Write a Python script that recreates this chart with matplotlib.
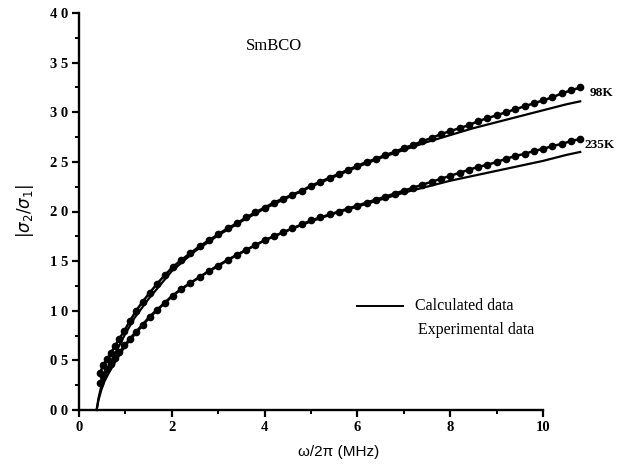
import matplotlib
matplotlib.use("Agg")
import matplotlib.pyplot as plt
from matplotlib.ticker import MultipleLocator, FixedLocator

# ---- data ----
x_calc = [0.38, 0.42, 0.48, 0.55, 0.65, 0.8, 1.0, 1.2, 1.5, 2.0, 2.5, 3.0, 3.5, 4.0,
          4.5, 5.0, 5.5, 6.0, 6.5, 7.0, 7.5, 8.0, 8.5, 9.0, 9.5, 10.0, 10.5, 10.8]
y98_calc = [0.0, 0.12, 0.24, 0.34, 0.45, 0.59, 0.77, 0.93, 1.12, 1.40, 1.60, 1.76, 1.90, 2.03,
            2.14, 2.25, 2.35, 2.45, 2.54, 2.62, 2.70, 2.77, 2.84, 2.90, 2.96, 3.02, 3.08, 3.11]
y235_calc = [0.0, 0.10, 0.20, 0.29, 0.38, 0.50, 0.65, 0.76, 0.92, 1.15, 1.31, 1.46, 1.59, 1.71,
             1.81, 1.90, 1.98, 2.05, 2.12, 2.19, 2.25, 2.31, 2.36, 2.41, 2.46, 2.51, 2.57, 2.60]

x_exp = [0.45, 0.52, 0.6, 0.68, 0.77, 0.87, 0.98, 1.1, 1.23, 1.37, 1.52, 1.68, 1.85, 2.02,
         2.2, 2.4, 2.6, 2.8, 3.0, 3.2, 3.4, 3.6, 3.8, 4.0, 4.2, 4.4, 4.6, 4.8, 5.0, 5.2,
         5.4, 5.6, 5.8, 6.0, 6.2, 6.4, 6.6, 6.8, 7.0, 7.2, 7.4, 7.6, 7.8, 8.0, 8.2, 8.4,
         8.6, 8.8, 9.0, 9.2, 9.4, 9.6, 9.8, 10.0, 10.2, 10.4, 10.6, 10.8]
y98_exp = [0.37, 0.45, 0.51, 0.57, 0.64, 0.72, 0.80, 0.90, 1.00, 1.09, 1.18, 1.27, 1.36, 1.44,
           1.51, 1.58, 1.65, 1.71, 1.77, 1.83, 1.88, 1.94, 1.99, 2.04, 2.09, 2.13, 2.17, 2.21,
           2.26, 2.30, 2.34, 2.38, 2.42, 2.46, 2.50, 2.53, 2.57, 2.60, 2.64, 2.67, 2.71, 2.74,
           2.78, 2.81, 2.84, 2.87, 2.91, 2.94, 2.97, 3.00, 3.03, 3.06, 3.09, 3.12, 3.15, 3.19,
           3.22, 3.25]
y235_exp = [0.27, 0.34, 0.41, 0.46, 0.52, 0.58, 0.65, 0.72, 0.79, 0.86, 0.94, 1.01, 1.08, 1.15,
            1.22, 1.28, 1.34, 1.40, 1.45, 1.51, 1.56, 1.61, 1.66, 1.71, 1.75, 1.79, 1.83, 1.87,
            1.91, 1.94, 1.97, 2.00, 2.03, 2.06, 2.09, 2.12, 2.15, 2.18, 2.21, 2.24, 2.27, 2.30,
            2.33, 2.36, 2.39, 2.42, 2.45, 2.47, 2.50, 2.53, 2.56, 2.58, 2.61, 2.63, 2.66, 2.68,
            2.71, 2.73]

y_ticks = [0.0, 0.5, 1.0, 1.5, 2.0, 2.5, 3.0, 3.5, 4.0]
y_ticklabels = ["0 0", "0 5", "1 0", "1 5", "2 0", "2 5", "3 0", "3 5", "4 0"]
x_ticks = [0, 2, 4, 6, 8, 10]
x_ticklabels = ["0", "2", "4", "6", "8", "10"]

serif = "Liberation Serif"

fig = plt.figure(figsize=(6.24, 4.75), dpi=100)
ax = fig.add_axes([79 / 624, 65 / 475, 0.833, 397 / 475])

ax.plot(x_calc, y98_calc, color="black", lw=1.6, clip_on=False)
ax.plot(x_calc, y235_calc, color="black", lw=1.6, clip_on=False)
ax.plot(x_exp, y98_exp, color="black", lw=1.8, marker="o", ms=4.5, clip_on=False)
ax.plot(x_exp, y235_exp, color="black", lw=1.8, marker="o", ms=4.5, clip_on=False)

ax.set_xlim(0, 11.2)
ax.set_ylim(0, 4.0)
ax.spines["top"].set_visible(False)
ax.spines["right"].set_visible(False)
ax.spines["bottom"].set_bounds(0, 10)
ax.spines["left"].set_linewidth(1.7)
ax.spines["bottom"].set_linewidth(1.7)

ax.set_yticks(y_ticks)
ax.set_yticklabels(y_ticklabels, fontfamily=serif, fontweight="bold", fontsize=10.5)
ax.set_xticks(x_ticks)
ax.set_xticklabels(x_ticklabels, fontfamily=serif, fontweight="bold", fontsize=10.5)
ax.yaxis.set_minor_locator(MultipleLocator(0.25))
ax.xaxis.set_minor_locator(FixedLocator([1, 3, 5, 7, 9]))
ax.tick_params(which="major", direction="out", length=5, width=1.6, pad=3)
ax.tick_params(which="minor", direction="out", length=3, width=1.4)

ax.set_xlabel("ω/2π (MHz)", fontfamily="Liberation Sans", fontsize=11, labelpad=8)
ax.set_ylabel(r"$|\sigma_2/\sigma_1|$", fontsize=12, labelpad=10)

ax.text(4.2, 3.67, "SmBCO", fontfamily=serif, fontsize=12, ha="center", va="center")
ax.text(11.0, 3.19, "98K", fontfamily=serif, fontweight="bold", fontsize=9.5, ha="left", va="center")
ax.text(10.9, 2.67, "235K", fontfamily=serif, fontweight="bold", fontsize=9.5, ha="left", va="center")

# legend drawn by hand, as in the reference
ax.plot([6.0, 6.99], [1.05, 1.05], color="black", lw=1.4)
ax.text(7.24, 1.05, "Calculated data", fontfamily=serif, fontsize=11.5, ha="left", va="center")
ax.text(7.3, 0.81, "Experimental data", fontfamily=serif, fontsize=11.5, ha="left", va="center")

fig.savefig("out.png", dpi=100)
